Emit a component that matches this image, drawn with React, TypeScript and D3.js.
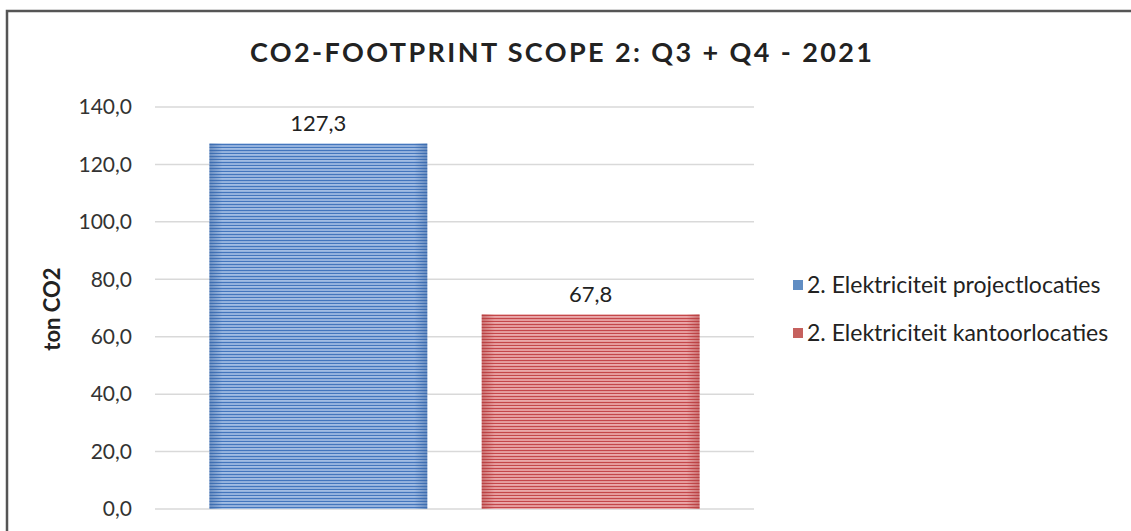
import React from "react";
import * as d3 from "d3";

// chart data
const seriesNames = ["2. Elektriciteit projectlocaties", "2. Elektriciteit kantoorlocaties"];
const seriesValues = [127.3, 67.8];
const yTicks = [0, 20, 40, 60, 80, 100, 120, 140];
const chartTitle = "CO2-FOOTPRINT SCOPE 2: Q3 + Q4 - 2021";
const yTitle = "ton CO2";

const W = 1131;
const H = 531;
const plot = { left: 155, right: 754, top: 107, bottom: 509 };
const font = "Lato, 'Open Sans', sans-serif";

// stripe palettes per series (dark, mid, light)
const palettes = [
  { dark: "#4476bd", mid: "#7299d2", light: "#b8cdeb", edge: "#36629f", legend: "#4f81bd" },
  { dark: "#c4474a", mid: "#dc7e80", light: "#f1bcbd", edge: "#ad3c3c", legend: "#c0504d" },
];

const fmt = (v: number) => v.toFixed(1).replace(".", ",");

export default function App() {
  const y = d3.scaleLinear().domain([0, 140]).range([plot.bottom, plot.top]);
  const x = d3
    .scaleBand<string>()
    .domain(seriesNames)
    .range([plot.left, plot.right])
    .paddingInner(0.2)
    .paddingOuter(0.2);

  return (
    <svg
      width={W}
      height={H}
      style={{ position: "absolute", left: 0, top: 0, background: "#fff" }}
    >
      <defs>
        {palettes.map((p, i) => (
          <React.Fragment key={i}>
            <pattern id={`stripes-${i}`} width={8} height={6} patternUnits="userSpaceOnUse">
              <rect width={8} height={6} fill={p.mid} />
              <rect y={0} width={8} height={1.2} fill={p.dark} />
              <rect y={1.5} width={8} height={1} fill={p.light} />
              <rect y={3} width={8} height={1} fill={p.dark} />
              <rect y={4.3} width={8} height={1.2} fill={p.light} />
            </pattern>
            <linearGradient id={`edge-${i}`} x1="0" x2="1" y1="0" y2="0">
              <stop offset="0%" stopColor={p.edge} stopOpacity={0.5} />
              <stop offset="6%" stopColor={p.edge} stopOpacity={0} />
              <stop offset="94%" stopColor={p.edge} stopOpacity={0} />
              <stop offset="100%" stopColor={p.edge} stopOpacity={0.5} />
            </linearGradient>
          </React.Fragment>
        ))}
      </defs>

      {/* outer frame */}
      <rect x={7} y={11} width={W} height={H} fill="none" stroke="#555" strokeWidth={2.5} />

      <text
        x={561}
        y={62}
        textAnchor="middle"
        fontFamily={font}
        fontWeight={700}
        fontSize={27}
        fill="#222"
        textLength={622}
        lengthAdjust="spacing"
      >
        {chartTitle}
      </text>

      {/* gridlines + tick labels */}
      {yTicks.map((t) => (
        <g key={t}>
          <line
            x1={plot.left}
            x2={plot.right}
            y1={y(t)}
            y2={y(t)}
            stroke="#d9d9d9"
            strokeWidth={1.5}
          />
          <text
            x={132}
            y={y(t)}
            dy="0.35em"
            textAnchor="end"
            fontFamily={font}
            fontSize={21}
            fill="#333"
          >
            {fmt(t)}
          </text>
        </g>
      ))}

      <text
        transform={`translate(60,${(plot.top + plot.bottom) / 2 + 1}) rotate(-90)`}
        textAnchor="middle"
        fontFamily={font}
        fontWeight={700}
        fontSize={22}
        fill="#222"
      >
        {yTitle}
      </text>

      {/* bars */}
      {seriesNames.map((s, i) => {
        const bx = x(s)!;
        const bw = x.bandwidth();
        const by = y(seriesValues[i]);
        const bh = y(0) - by;
        return (
          <g key={s}>
            <rect x={bx} y={by} width={bw} height={bh} fill={`url(#stripes-${i})`} />
            <rect x={bx} y={by} width={bw} height={bh} fill={`url(#edge-${i})`} />
            <text
              x={bx + bw / 2}
              y={by - 12}
              textAnchor="middle"
              fontFamily={font}
              fontSize={22}
              fill="#222"
            >
              {fmt(seriesValues[i])}
            </text>
          </g>
        );
      })}

      {/* legend */}
      {seriesNames.map((s, i) => (
        <g key={s} transform={`translate(793,${285 + i * 48})`}>
          <rect x={0} y={-5} width={10} height={10} fill={palettes[i].legend} opacity={0.9} />
          <text x={14} y={0} dy="0.35em" fontFamily={font} fontSize={23} fill="#222">
            {s}
          </text>
        </g>
      ))}
    </svg>
  );
}
